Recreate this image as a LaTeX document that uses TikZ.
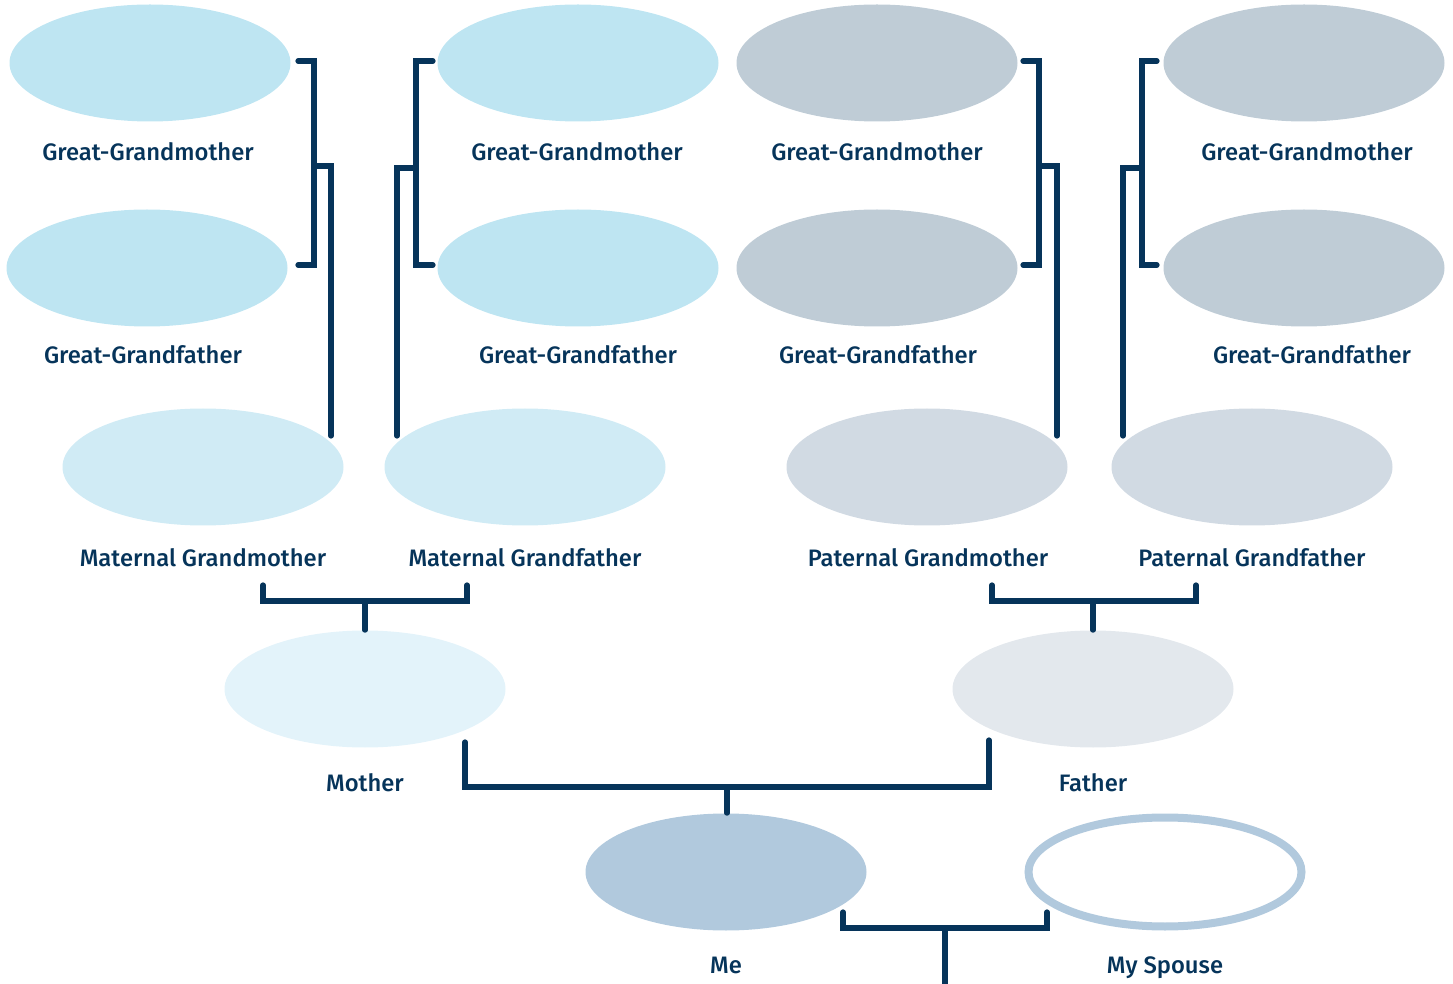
\documentclass[tikz,border=0pt]{standalone}
\usepackage{fontspec}
\setmainfont{Fira Sans Medium}
\definecolor{navy}{HTML}{06345A}
\definecolor{mblue}{HTML}{BEE5F2}
\definecolor{mgray}{HTML}{BFCCD6}
\definecolor{gblue}{HTML}{D0EBF5}
\definecolor{ggray}{HTML}{D1DAE3}
\definecolor{pblue}{HTML}{E3F3FA}
\definecolor{pgray}{HTML}{E3E8ED}
\definecolor{meblue}{HTML}{B1C9DD}
\tikzset{
  oval/.style={ellipse, minimum width=140.5pt, minimum height=58.5pt, inner sep=0pt, draw=none},
  lbl/.style={anchor=base, text=navy, font=\fontsize{11.9}{14}\selectfont, inner sep=0pt},
  conn/.style={draw=navy, line width=2.6pt, line cap=round, line join=miter},
}
\usetikzlibrary{shapes.geometric}
\begin{document}
\begin{tikzpicture}[x=0.5pt,y=-0.5pt]
\useasboundingbox (0,0) rectangle (1453,984);
% row 1
\node[oval, fill=mblue] (gg1) at (150,63) {};
\node[oval, fill=mblue] (gg3) at (578,63) {};
\node[oval, fill=mgray] (gg5) at (877,63) {};
\node[oval, fill=mgray] (gg7) at (1304,63) {};
\node[lbl] (tgg1) at (148,161) {Great-Grandmother};
\node[lbl] (tgg3) at (577,161) {Great-Grandmother};
\node[lbl] (tgg5) at (877,161) {Great-Grandmother};
\node[lbl] (tgg7) at (1307,161) {Great-Grandmother};
% row 2
\node[oval, fill=mblue] (gg2) at (147,268) {};
\node[oval, fill=mblue] (gg4) at (578,268) {};
\node[oval, fill=mgray] (gg6) at (877,268) {};
\node[oval, fill=mgray] (gg8) at (1304,268) {};
\node[lbl] (tgg2) at (143,364) {Great-Grandfather};
\node[lbl] (tgg4) at (578,364) {Great-Grandfather};
\node[lbl] (tgg6) at (878,364) {Great-Grandfather};
\node[lbl] (tgg8) at (1312,364) {Great-Grandfather};
% row 3
\node[oval, fill=gblue] (g1) at (203,467) {};
\node[oval, fill=gblue] (g2) at (525,467) {};
\node[oval, fill=ggray] (g3) at (927,467) {};
\node[oval, fill=ggray] (g4) at (1252,467) {};
\node[lbl] (tg1) at (203,567) {Maternal Grandmother};
\node[lbl] (tg2) at (525,567) {Maternal Grandfather};
\node[lbl] (tg3) at (928,567) {Paternal Grandmother};
\node[lbl] (tg4) at (1252,567) {Paternal Grandfather};
% row 4
\node[oval, fill=pblue] (mother) at (365,689) {};
\node[oval, fill=pgray] (father) at (1093,689) {};
\node[lbl] (tmother) at (365,791) {Mother};
\node[lbl] (tfather) at (1093,791) {Father};
% row 5
\node[oval, fill=meblue] (me) at (726,872) {};
\node[oval, draw=meblue, line width=4pt, fill=white, minimum width=136.5pt, minimum height=54.5pt] (spouse) at (1165,872) {};
\node[lbl] (tme) at (726,973) {Me};
\node[lbl] (tspouse) at (1165,973) {My Spouse};
% connector coordinates
\coordinate (a1) at (298,61); \coordinate (a2) at (298,265);
\coordinate (a3) at (314,166); \coordinate (a4) at (331,436);
\coordinate (b1) at (433,61); \coordinate (b2) at (433,265);
\coordinate (b3) at (416,168); \coordinate (b4) at (397,436);
\coordinate (c1) at (1023,61); \coordinate (c2) at (1023,265);
\coordinate (c3) at (1039,166); \coordinate (c4) at (1057,436);
\coordinate (d1) at (1157,61); \coordinate (d2) at (1157,265);
\coordinate (d3) at (1142,168); \coordinate (d4) at (1123,436);
\coordinate (m1) at (263,585); \coordinate (m2) at (467,585); \coordinate (m3) at (365,601);
\coordinate (p1) at (992,585); \coordinate (p2) at (1196,585); \coordinate (p3) at (1093,601);
\coordinate (q1) at (465,742); \coordinate (q2) at (989,740); \coordinate (q3) at (727,787);
\coordinate (s1) at (843,912); \coordinate (s2) at (1047,912); \coordinate (s3) at (945,928);
\coordinate (s4) at (945,984);
% brackets
\draw[conn] (a1) -| (314,265) -- (a2);
\draw[conn] (a3) -| (a4);
\draw[conn] (b1) -| (416,265) -- (b2);
\draw[conn] (b3) -| (b4);
\draw[conn] (c1) -| (1039,265) -- (c2);
\draw[conn] (c3) -| (c4);
\draw[conn] (d1) -| (1142,265) -- (d2);
\draw[conn] (d3) -| (d4);
\draw[conn] (m1) |- (m3) -| (m2);
\draw[conn] (m3) -- (m3 |- mother.north);
\draw[conn] (p1) |- (p3) -| (p2);
\draw[conn] (p3) -- (p3 |- father.north);
\draw[conn] (q1) |- (q3) -| (q2);
\draw[conn] (q3) -- (q3 |- me.north);
\draw[conn] (s1) |- (s3) -| (s2);
\draw[conn, line cap=butt] (s3) -- (s4);
\end{tikzpicture}
\end{document}
